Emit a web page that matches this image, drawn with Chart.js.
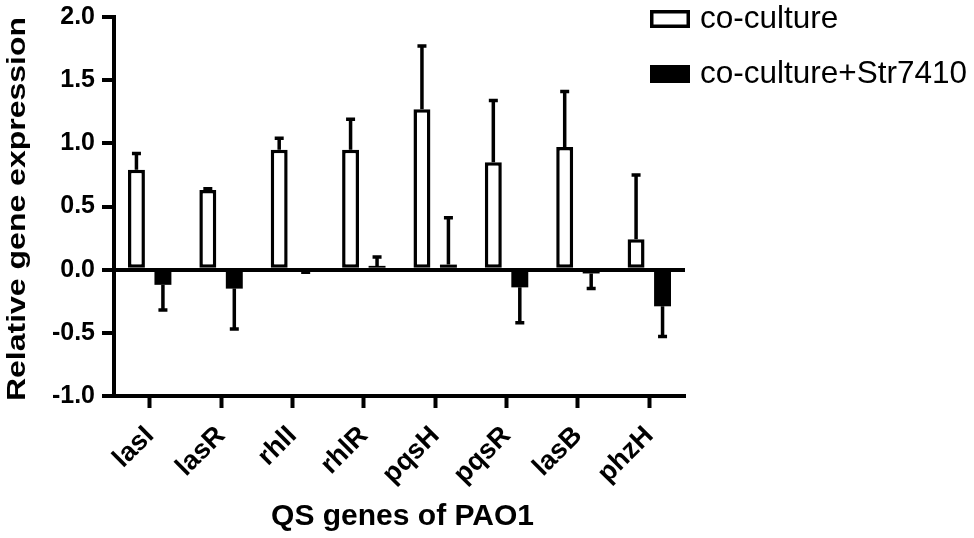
<!DOCTYPE html>
<html><head><meta charset="utf-8">
<script src="https://cdn.jsdelivr.net/npm/chart.js@4.4.1/dist/chart.umd.min.js"></script>
<style>html,body{margin:0;padding:0;background:#fff}#wrap{width:974px;height:538px;position:relative}</style>
</head><body><div id="wrap"><canvas id="c"></canvas></div>
<script>
const categories = ['lasI','lasR','rhlI','rhlR','pqsH','pqsR','lasB','phzH'];
const seriesNames = ['co-culture','co-culture+Str7410'];
const coculture = [0.79, 0.63, 0.95, 0.95, 1.27, 0.85, 0.97, 0.24];
const cocultureErr = [0.13, 0.01, 0.09, 0.24, 0.50, 0.49, 0.44, 0.51];
const str7410 = [-0.12, -0.15, -0.01, 0.03, 0.04, -0.14, -0.03, -0.29];
const str7410Err = [0.20, 0.32, 0.01, 0.07, 0.37, 0.28, 0.12, 0.24];
const yMin = -1.0, yMax = 2.0, yStep = 0.5;
const xTitle = 'QS genes of PAO1';
const yTitle = 'Relative gene expression';

const FONT = '"Liberation Sans", Arial, Helvetica, sans-serif';

const errorBars = {
  id: 'errorBars',
  afterDatasetsDraw(chart) {
    const ctx = chart.ctx, y = chart.scales.y;
    chart.data.datasets.forEach((ds, i) => {
      const meta = chart.getDatasetMeta(i);
      meta.data.forEach((bar, j) => {
        const v = ds.data[j], e = ds.errors[j];
        if (!e) return;
        const end = v >= 0 ? v + e : v - e;
        const y0 = y.getPixelForValue(v), y1 = y.getPixelForValue(end);
        ctx.save();
        ctx.strokeStyle = '#000'; ctx.lineWidth = 3.5; ctx.lineCap = 'butt';
        ctx.beginPath();
        ctx.moveTo(bar.x, y0); ctx.lineTo(bar.x, y1);
        ctx.moveTo(bar.x - 4.5, y1); ctx.lineTo(bar.x + 4.5, y1);
        ctx.stroke();
        ctx.restore();
      });
    });
  }
};

const extras = {
  id: 'extras',
  afterDraw(chart) {
    const ctx = chart.ctx, ca = chart.chartArea;
    ctx.save();
    ctx.fillStyle = '#000';
    ctx.font = 'bold 30px ' + FONT;
    ctx.textAlign = 'center'; ctx.textBaseline = 'alphabetic';
    ctx.fillText(xTitle, (ca.left + ca.right) / 2 + 3, 525);
    ctx.save();
    ctx.translate(25, 209);
    ctx.rotate(-Math.PI / 2);
    ctx.scale(1.28, 1);
    ctx.font = 'bold 25px ' + FONT;
    ctx.fillText(yTitle, 0, 0);
    ctx.restore();
    const rows = [10, 65];
    chart.data.datasets.forEach((ds, i) => {
      const top = rows[i];
      if (ds.backgroundColor === '#000000') {
        ctx.fillStyle = '#000';
        ctx.fillRect(650, top, 40, 18);
      } else {
        ctx.fillStyle = '#fff';
        ctx.fillRect(650, top, 40, 18);
        ctx.strokeStyle = '#000'; ctx.lineWidth = 3.5;
        ctx.strokeRect(651.75, top + 1.75, 36.5, 14.5);
      }
      ctx.fillStyle = '#000';
      ctx.font = '31.5px ' + FONT;
      ctx.textAlign = 'left'; ctx.textBaseline = 'alphabetic';
      ctx.fillText(ds.label, 700, top + 18);
    });
    ctx.restore();
  }
};

new Chart(document.getElementById('c'), {
  type: 'bar',
  data: {
    labels: categories,
    datasets: [
      { label: seriesNames[0], data: coculture, errors: cocultureErr,
        backgroundColor: '#ffffff', borderColor: '#000000', borderWidth: 3.5, borderSkipped: false,
        categoryPercentage: 0.742, barPercentage: 0.64 },
      { label: seriesNames[1], data: str7410, errors: str7410Err,
        backgroundColor: '#000000', borderColor: '#000000', borderWidth: 0, borderSkipped: false,
        categoryPercentage: 0.742, barPercentage: 0.64 }
    ]
  },
  options: {
    responsive: true, maintainAspectRatio: false, animation: false,
    layout: { padding: { top: 16, right: 289, bottom: 0, left: 0 } },
    plugins: { legend: { display: false }, tooltip: { enabled: false }, title: { display: false } },
    scales: {
      x: {
        afterFit(s) { s.height = 142; },
        border: { display: true, color: '#000', width: 4 },
        grid: { drawOnChartArea: false, offset: false, color: '#000', tickColor: '#000', tickLength: 12, tickWidth: 4 },
        ticks: { color: '#000', font: { family: FONT, size: 27, weight: 'bold' }, minRotation: 45, maxRotation: 45, autoSkip: false, padding: 12 }
      },
      y: {
        min: yMin, max: yMax,
        afterFit(s) { s.width = 114; },
        border: { display: true, color: '#000', width: 4 },
        grid: { drawOnChartArea: true, color: c => (c.tick && c.tick.value === 0) ? '#000' : 'rgba(0,0,0,0)', lineWidth: 4, tickColor: '#000', tickLength: 12, tickWidth: 4 },
        ticks: { stepSize: yStep, color: '#000', font: { family: FONT, size: 25, weight: 'bold', lineHeight: 0.8 }, padding: 7, callback: v => v.toFixed(1) }
      }
    }
  },
  plugins: [errorBars, extras]
});
</script>
</body></html>
